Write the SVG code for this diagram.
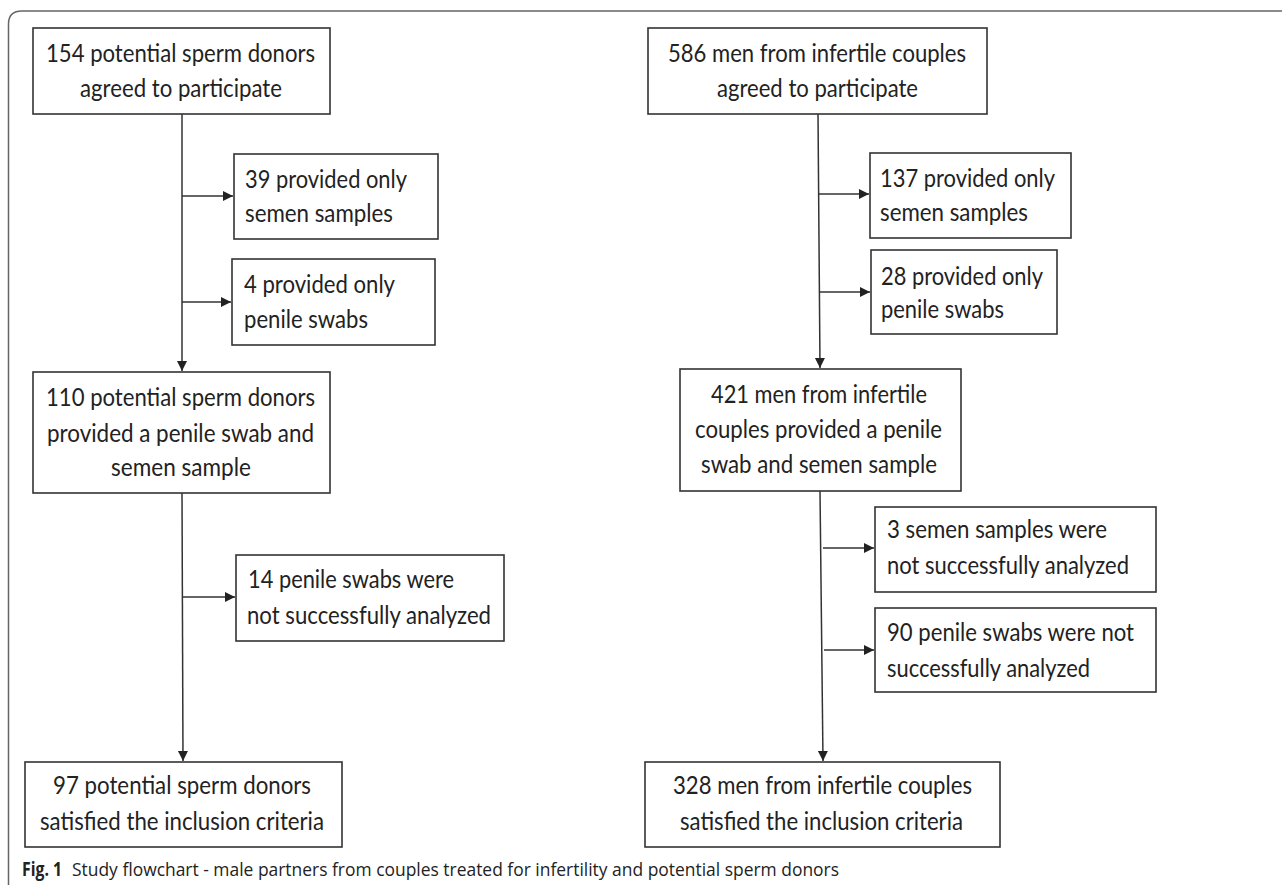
<svg xmlns="http://www.w3.org/2000/svg" width="1282" height="885" viewBox="0 0 1282 885">
<style>
.box{fill:#fff;stroke:#333;stroke-width:1.6}
.t{font-family:Lato,"Liberation Sans",sans-serif;font-size:25px;fill:#222}
.ln{stroke:#333;stroke-width:1.5;fill:none}
.cap{font-family:"Open Sans","Liberation Sans",sans-serif;font-size:19px;fill:#222}
</style>
<defs>
<marker id="ah" markerWidth="12" markerHeight="12" refX="10" refY="5" orient="auto" markerUnits="userSpaceOnUse">
<path d="M0,0 L10,5 L0,10 Z" fill="#222"/>
</marker>
</defs>
<rect width="1282" height="885" fill="#fff"/>
<path d="M8.5 885 V24 Q8.5 11 22 11 H1282" fill="none" stroke="#666" stroke-width="1.5"/>

<g id="connectors">
<line class="ln" x1="182" y1="114" x2="182" y2="371" marker-end="url(#ah)"/>
<line class="ln" x1="182" y1="196" x2="233" y2="196" marker-end="url(#ah)"/>
<line class="ln" x1="182" y1="302" x2="231" y2="302" marker-end="url(#ah)"/>
<line class="ln" x1="182" y1="493" x2="183" y2="761" marker-end="url(#ah)"/>
<line class="ln" x1="182" y1="597" x2="235" y2="597" marker-end="url(#ah)"/>
<line class="ln" x1="818" y1="114" x2="820" y2="368" marker-end="url(#ah)"/>
<line class="ln" x1="818" y1="194" x2="869" y2="194" marker-end="url(#ah)"/>
<line class="ln" x1="819" y1="292" x2="870" y2="292" marker-end="url(#ah)"/>
<line class="ln" x1="820" y1="491" x2="823" y2="761" marker-end="url(#ah)"/>
<line class="ln" x1="823" y1="548" x2="874" y2="548" marker-end="url(#ah)"/>
<line class="ln" x1="824" y1="650" x2="874" y2="650" marker-end="url(#ah)"/>
</g>

<g id="n154">
<rect class="box" x="33" y="28" width="297" height="86"/>
<text class="t" x="46" y="62" textLength="269" lengthAdjust="spacingAndGlyphs">154 potential sperm donors</text>
<text class="t" x="80" y="97" textLength="202" lengthAdjust="spacingAndGlyphs">agreed to participate</text>
</g>
<g id="n39">
<rect class="box" x="234" y="154" width="204" height="85"/>
<text class="t" x="245" y="188" textLength="162" lengthAdjust="spacingAndGlyphs">39 provided only</text>
<text class="t" x="245" y="222" textLength="148" lengthAdjust="spacingAndGlyphs">semen samples</text>
</g>
<g id="n4">
<rect class="box" x="232" y="259" width="203" height="86"/>
<text class="t" x="244" y="293" textLength="151" lengthAdjust="spacingAndGlyphs">4 provided only</text>
<text class="t" x="244" y="328" textLength="124" lengthAdjust="spacingAndGlyphs">penile swabs</text>
</g>
<g id="n110">
<rect class="box" x="33" y="372" width="297" height="121"/>
<text class="t" x="46" y="406" textLength="269" lengthAdjust="spacingAndGlyphs">110 potential sperm donors</text>
<text class="t" x="47" y="442" textLength="267" lengthAdjust="spacingAndGlyphs">provided a penile swab and</text>
<text class="t" x="111" y="476" textLength="140" lengthAdjust="spacingAndGlyphs">semen sample</text>
</g>
<g id="n14">
<rect class="box" x="236" y="555" width="268" height="86"/>
<text class="t" x="248" y="588" textLength="206" lengthAdjust="spacingAndGlyphs">14 penile swabs were</text>
<text class="t" x="247" y="624" textLength="244" lengthAdjust="spacingAndGlyphs">not successfully analyzed</text>
</g>
<g id="n97">
<rect class="box" x="25" y="762" width="317" height="85"/>
<text class="t" x="53" y="794" textLength="258" lengthAdjust="spacingAndGlyphs">97 potential sperm donors</text>
<text class="t" x="40" y="830" textLength="284" lengthAdjust="spacingAndGlyphs">satisfied the inclusion criteria</text>
</g>

<g id="n586">
<rect class="box" x="648" y="28" width="339" height="86"/>
<text class="t" x="668" y="62" textLength="298" lengthAdjust="spacingAndGlyphs">586 men from infertile couples</text>
<text class="t" x="717" y="97" textLength="201" lengthAdjust="spacingAndGlyphs">agreed to participate</text>
</g>
<g id="n137">
<rect class="box" x="870" y="153" width="201" height="85"/>
<text class="t" x="880" y="187" textLength="175" lengthAdjust="spacingAndGlyphs">137 provided only</text>
<text class="t" x="880" y="221" textLength="148" lengthAdjust="spacingAndGlyphs">semen samples</text>
</g>
<g id="n28">
<rect class="box" x="871" y="250" width="186" height="84"/>
<text class="t" x="881" y="285" textLength="162" lengthAdjust="spacingAndGlyphs">28 provided only</text>
<text class="t" x="881" y="318" textLength="123" lengthAdjust="spacingAndGlyphs">penile swabs</text>
</g>
<g id="n421">
<rect class="box" x="680" y="369" width="281" height="122"/>
<text class="t" x="711" y="403" textLength="216" lengthAdjust="spacingAndGlyphs">421 men from infertile</text>
<text class="t" x="695" y="438" textLength="247" lengthAdjust="spacingAndGlyphs">couples provided a penile</text>
<text class="t" x="701" y="473" textLength="236" lengthAdjust="spacingAndGlyphs">swab and semen sample</text>
</g>
<g id="n3">
<rect class="box" x="875" y="507" width="281" height="85"/>
<text class="t" x="887" y="538" textLength="220" lengthAdjust="spacingAndGlyphs">3 semen samples were</text>
<text class="t" x="887" y="574" textLength="242" lengthAdjust="spacingAndGlyphs">not successfully analyzed</text>
</g>
<g id="n90">
<rect class="box" x="875" y="608" width="281" height="84"/>
<text class="t" x="887" y="641" textLength="247" lengthAdjust="spacingAndGlyphs">90 penile swabs were not</text>
<text class="t" x="887" y="677" textLength="203" lengthAdjust="spacingAndGlyphs">successfully analyzed</text>
</g>
<g id="n328">
<rect class="box" x="645" y="762" width="355" height="85"/>
<text class="t" x="673" y="794" textLength="299" lengthAdjust="spacingAndGlyphs">328 men from infertile couples</text>
<text class="t" x="680" y="830" textLength="283" lengthAdjust="spacingAndGlyphs">satisfied the inclusion criteria</text>
</g>

<g id="caption">
<text class="cap" x="22" y="876" font-weight="bold" textLength="40" lengthAdjust="spacingAndGlyphs">Fig. 1</text>
<text class="cap" x="72" y="876" textLength="767" lengthAdjust="spacingAndGlyphs">Study flowchart - male partners from couples treated for infertility and potential sperm donors</text>
</g>
</svg>
